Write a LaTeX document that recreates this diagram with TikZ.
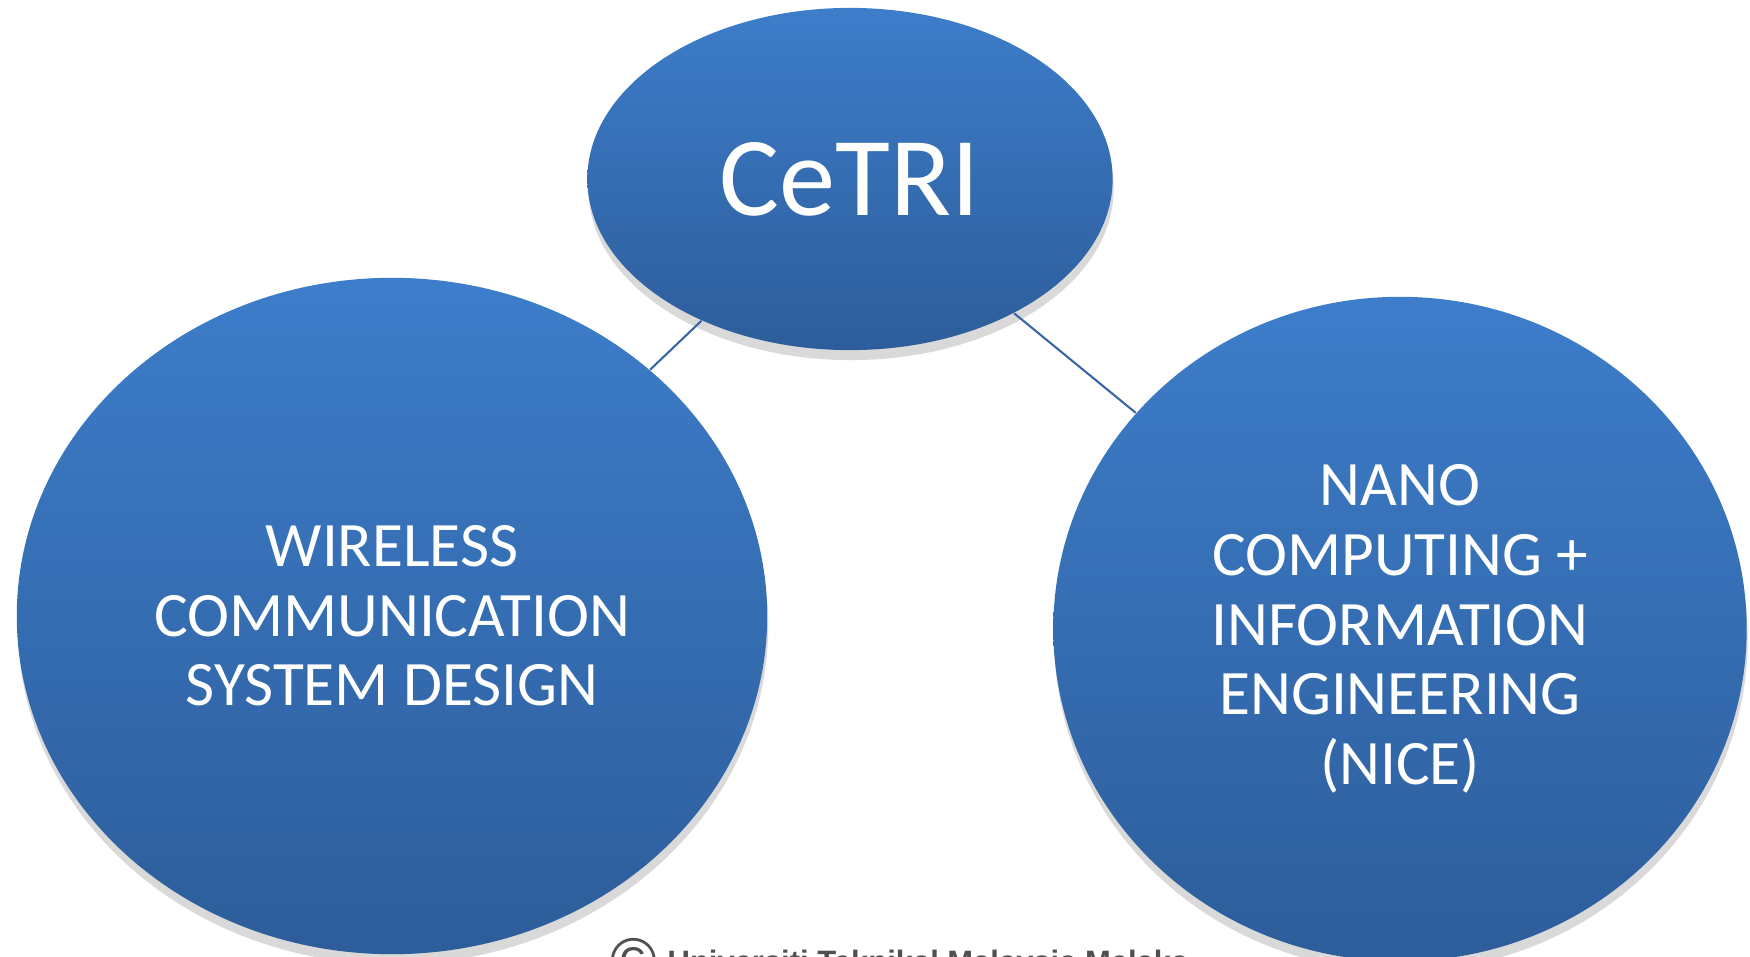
\documentclass[tikz,border=0pt]{standalone}
\usepackage{fontspec}
\setmainfont{Carlito}
\newfontfamily\footfont{Liberation Sans}
\usetikzlibrary{shapes.geometric,shadows}
\definecolor{blobtop}{RGB}{61,125,202}
\definecolor{blobbot}{RGB}{45,93,154}
\definecolor{linkblue}{RGB}{58,103,163}
\definecolor{footgray}{RGB}{80,80,80}

\tikzset{
    blob/.style={ellipse, inner sep=0pt, top color=blobtop, bottom color=blobbot,
        draw=none, text=white, align=center,
        drop shadow={opacity=0.3, shadow xshift=0.1mm, shadow yshift=-1.0mm}},
    link/.style={draw=linkblue, line width=0.6pt}
}

\begin{document}
\begin{tikzpicture}[x=0.01cm, y=-0.01cm]
    \useasboundingbox (0,0) rectangle (1750,957);

    % the three bubbles
    \node[blob, minimum width=5.25cm, minimum height=3.42cm,
          font=\fontsize{32}{36}\selectfont] (cetri) at (850,179) {CeTRI};
    \node[blob, minimum width=7.5cm, minimum height=6.76cm,
          font=\fontsize{18}{19.8}\selectfont] (wireless) at (392,616)
          {WIRELESS\\COMMUNICATION\\SYSTEM DESIGN};
    \node[blob, minimum width=6.93cm, minimum height=6.64cm,
          font=\fontsize{18}{19.8}\selectfont] (nice) at (1400,629)
          {NANO\\COMPUTING +\\INFORMATION\\ENGINEERING\\(NICE)};

    % links
    \draw[link] (cetri) -- (wireless);
    \draw[link] (cetri) -- (nice);

    % footer, cut by the page edge
    \node[anchor=north west, inner sep=0pt, text=footgray,
          font=\footfont\fontsize{18}{18}\selectfont] (copy) at (610,938)
          {\textcopyright};
    \node[anchor=north west, inner sep=0pt, text=footgray,
          font=\footfont\bfseries\fontsize{8.8}{8.8}\selectfont] (foot) at (667,949)
          {Universiti Teknikal Malaysia Melaka};
\end{tikzpicture}
\end{document}
